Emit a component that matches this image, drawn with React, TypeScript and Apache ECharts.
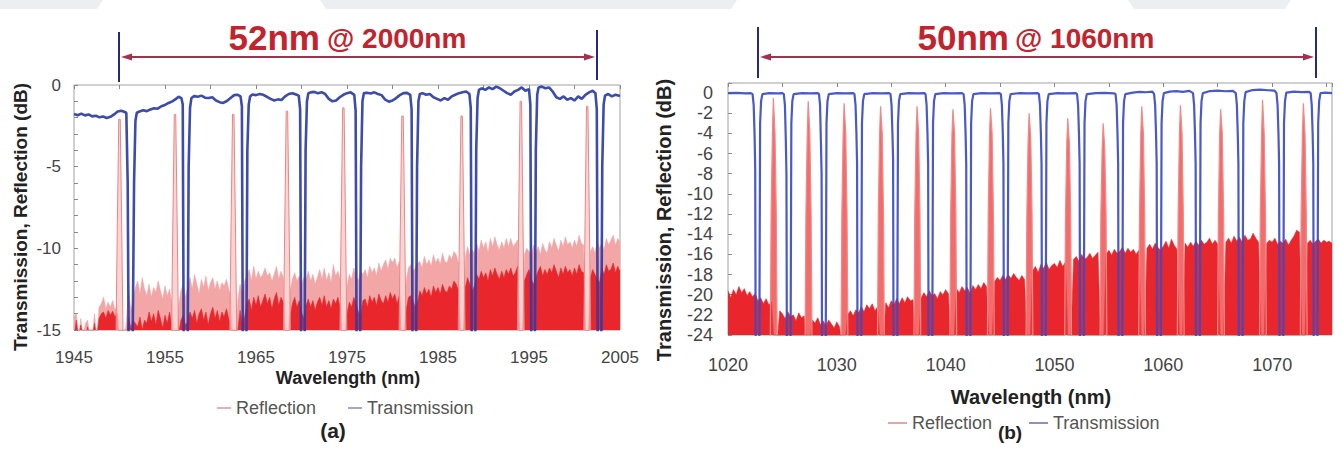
import React, { useEffect, useRef } from "react";
import * as echarts from "echarts";

const FONT = "'Liberation Sans', Arial, Helvetica, sans-serif";

// ================= Chart (a): 52nm @ 2000nm =================
const xMinA = 1945;
const xMaxA = 2005;
const yMinA = -15;
const yMaxA = 0;
const gridStartA = 1945; // wavelength of first sample of the noise arrays
const gridStepA = 0.25;

// upper (pale) envelope of the reflection noise floor, dB
const reflectionEnvelopeA = [
  -14.2, -14.0, -15.5, -14.3, -15.5, -14.6, -14.4, -15.5, -15.5, -14.0, -15.5, -13.6,
  -13.4, -13.0, -13.7, -13.3, -13.6, -13.2, -13.8, -13.5, -16, -16, -16, -14.5,
  -12.6, -13.8, -13.2, -12.4, -12.0, -12.8, -11.8, -12.5, -12.9, -12.2, -13.0, -12.4,
  -12.7, -12.0, -12.6, -13.1, -12.3, -12.9, -12.5, -13.4, -16, -16, -13.5, -12.6,
  -12.2, -13.0, -12.4, -11.8, -12.5, -11.6, -12.2, -12.8, -11.9, -12.4, -11.7, -12.6,
  -12.1, -11.8, -12.5, -12.0, -12.6, -12.1, -12.3, -11.9, -12.5, -13.0, -16, -16,
  -13.2, -12.2, -12.8, -12.0, -11.7, -11.3, -12.0, -11.1, -11.9, -11.4, -11.8, -11.6,
  -11.2, -11.7, -11.5, -12.0, -11.6, -11.1, -11.9, -11.4, -11.8, -16, -16, -12.6,
  -11.9, -11.5, -12.0, -11.7, -12.2, -11.8, -11.9, -11.4, -12.0, -11.6, -12.2, -11.8,
  -11.3, -11.9, -11.2, -12.0, -11.5, -12.1, -11.0, -11.7, -11.4, -11.9, -16, -16,
  -12.3, -11.6, -11.9, -11.2, -11.7, -12.0, -11.4, -11.6, -11.3, -11.8, -11.1, -11.5,
  -11.2, -11.7, -10.9, -11.4, -11.0, -10.7, -11.3, -10.6, -10.9, -10.6, -11.2, -10.8,
  -16, -16, -12.0, -11.2, -11.0, -11.4, -11.2, -10.9, -10.8, -11.2, -10.5, -11.0,
  -10.7, -11.1, -10.4, -10.9, -10.6, -11.0, -10.3, -10.8, -10.9, -10.4, -10.7, -10.2,
  -10.4, -10.9, -16, -16, -10.6, -9.9, -10.4, -10.1, -10.3, -9.7, -10.2, -9.5,
  -10.0, -9.6, -10.3, -9.4, -9.9, -9.3, -9.8, -10.1, -9.6, -10.0, -9.4, -9.9,
  -9.4, -9.9, -9.7, -9.5, -16, -16, -10.4, -10.0, -10.2, -10.5, -9.8, -10.3,
  -9.9, -10.4, -9.7, -10.1, -10.3, -9.6, -10.0, -9.4, -9.8, -10.2, -9.5, -9.9,
  -9.3, -9.8, -9.6, -10.0, -9.5, -9.9, -9.2, -9.7, -9.8, -16, -16, -10.2,
  -9.9, -10.3, -9.6, -10.0, -9.7, -10.1, -9.4, -9.8, -9.5, -9.2, -9.8, -9.4,
  -9.6,
];

// dense (deep red) core of the reflection noise floor, dB
const reflectionCoreA = [
  -15.5, -14.4, -15.5, -14.7, -15.5, -15.5, -14.8, -15.5, -15.5, -14.6, -15.5, -14.3,
  -14.0, -13.9, -14.3, -13.8, -14.1, -13.85, -14.2, -13.95, -16, -16, -16, -15.5,
  -14.2, -14.9, -14.4, -14.6, -14.8, -14.2, -15.0, -14.4, -14.6, -13.9, -14.5, -14.0,
  -14.7, -13.8, -14.3, -14.9, -14.1, -14.6, -13.9, -14.8, -16, -16, -15.2, -14.4,
  -14.1, -14.7, -14.5, -13.9, -14.3, -13.8, -14.6, -14.0, -13.7, -14.4, -13.9, -14.7,
  -14.0, -13.6, -14.3, -13.8, -14.5, -13.9, -14.2, -13.7, -14.3, -14.8, -16, -16,
  -15.0, -13.8, -14.6, -14.2, -13.4, -13.1, -13.8, -13.0, -13.5, -12.9, -13.6, -13.2,
  -12.8, -13.4, -13.0, -13.7, -13.1, -12.7, -13.5, -13.0, -13.3, -16, -16, -14.2,
  -13.4, -13.0, -13.6, -13.2, -13.9, -14.3, -13.5, -13.1, -13.6, -13.2, -13.8, -13.3,
  -13.0, -13.5, -12.9, -13.6, -13.2, -13.7, -13.1, -13.4, -13.0, -13.6, -16, -16,
  -14.0, -13.3, -13.6, -13.0, -13.4, -13.9, -14.1, -13.2, -13.1, -13.6, -12.9, -13.3,
  -13.0, -13.5, -12.8, -13.2, -13.4, -12.9, -13.3, -12.7, -13.1, -12.8, -13.4, -12.9,
  -16, -16, -13.8, -13.0, -12.9, -13.2, -13.6, -13.3, -12.6, -12.9, -12.4, -12.8,
  -12.5, -13.0, -12.3, -12.7, -12.4, -12.8, -12.2, -12.6, -12.7, -12.3, -12.5, -12.0,
  -12.2, -12.6, -16, -16, -12.4, -11.8, -12.2, -12.6, -12.3, -11.6, -11.9, -11.4,
  -11.8, -11.5, -12.0, -11.3, -11.7, -11.2, -11.6, -11.9, -11.4, -11.8, -11.3, -11.6,
  -11.2, -11.7, -11.5, -11.1, -16, -16, -12.0, -11.6, -11.3, -11.9, -12.2, -11.8,
  -11.4, -11.1, -11.7, -11.3, -11.6, -11.2, -11.5, -11.0, -11.4, -11.8, -11.2, -11.6,
  -11.1, -11.5, -11.3, -11.7, -11.2, -11.6, -11.0, -11.4, -11.5, -16, -16, -11.8,
  -11.3, -11.6, -11.9, -12.1, -11.2, -11.6, -11.0, -11.4, -11.3, -10.9, -11.5, -11.1,
  -11.4,
];

// narrow Bragg reflection peaks, [nm, dB]
const reflectionPeaksA: [number, number][] = [
  [1949.6, -16], [1949.75, -9], [1949.92, -2.1], [1950.08, -2.1], [1950.25, -9], [1950.4, -16],
  [1955.7, -16], [1955.85, -9], [1956.02, -1.8], [1956.18, -1.8], [1956.35, -9], [1956.5, -16],
  [1962.1, -16], [1962.25, -9], [1962.42, -1.8], [1962.58, -1.8], [1962.75, -9], [1962.9, -16],
  [1968.0, -16], [1968.15, -9], [1968.32, -1.6], [1968.48, -1.6], [1968.65, -9], [1968.8, -16],
  [1974.2, -16], [1974.35, -9], [1974.52, -1.4], [1974.68, -1.4], [1974.85, -9], [1975.0, -16],
  [1980.7, -16], [1980.85, -9], [1981.02, -1.9], [1981.18, -1.9], [1981.35, -9], [1981.5, -16],
  [1987.2, -16], [1987.35, -9], [1987.52, -1.9], [1987.68, -1.9], [1987.85, -9], [1988.0, -16],
  [1993.7, -16], [1993.85, -9], [1994.02, -1.0], [1994.18, -1.0], [1994.35, -9], [1994.5, -16],
  [2001.0, -16], [2001.15, -9], [2001.32, -1.3], [2001.48, -1.3], [2001.65, -9], [2001.8, -16],
];

// transmission, [nm, dB]
const transmissionA: [number, number][] = [
  [1945, -1.78], [1945.4, -1.85], [1945.8, -1.75], [1946.2, -1.86], [1946.6, -1.8], [1947, -1.92],
  [1947.4, -1.88], [1947.8, -1.98], [1948.2, -1.93], [1948.6, -2.02], [1949, -1.95], [1949.4, -1.8],
  [1949.8, -1.62], [1950.2, -1.58], [1950.5, -1.64],
  [1950.75, -1.7], [1950.9, -6], [1951.0, -15.5], [1951.45, -15.5], [1951.6, -6], [1951.75, -2.2], [1951.9, -1.7],
  [1952.2, -1.62], [1952.6, -1.55], [1953, -1.6], [1953.4, -1.5], [1953.8, -1.42], [1954.2, -1.45],
  [1954.6, -1.3], [1955, -1.22], [1955.4, -1.1], [1955.8, -1.0], [1956.2, -0.85], [1956.5, -0.72], [1956.8, -0.8],
  [1956.95, -1.2], [1957.05, -15.5], [1957.5, -15.5], [1957.6, -5], [1957.75, -1.4], [1957.9, -0.8],
  [1958.2, -0.68], [1958.6, -0.72], [1959, -0.65], [1959.4, -0.78], [1959.8, -0.8], [1960.2, -0.75],
  [1960.6, -0.95], [1961, -1.05], [1961.4, -1.1], [1961.8, -0.98], [1962.2, -0.8], [1962.6, -0.62],
  [1963, -0.6], [1963.3, -0.7],
  [1963.45, -1.3], [1963.55, -15.5], [1963.95, -15.5], [1964.05, -4], [1964.2, -1.2], [1964.35, -0.7],
  [1964.6, -0.58], [1965, -0.62], [1965.4, -0.55], [1965.8, -0.6], [1966.2, -0.72], [1966.6, -0.85],
  [1967, -0.95], [1967.4, -0.88], [1967.8, -0.92], [1968.2, -0.7], [1968.6, -0.55], [1969, -0.5],
  [1969.4, -0.58], [1969.7, -0.65],
  [1969.85, -1.5], [1969.95, -15.5], [1970.35, -15.5], [1970.45, -4], [1970.6, -1], [1970.75, -0.5],
  [1971, -0.45], [1971.4, -0.42], [1971.8, -0.5], [1972.2, -0.44], [1972.6, -0.55], [1973, -0.85],
  [1973.4, -1.0], [1973.8, -0.95], [1974.2, -0.75], [1974.6, -0.6], [1975, -0.5], [1975.4, -0.45], [1975.8, -0.6],
  [1975.95, -1.6], [1976.05, -15.5], [1976.45, -15.5], [1976.55, -5], [1976.7, -1], [1976.85, -0.5],
  [1977.2, -0.48], [1977.6, -0.52], [1978, -0.45], [1978.4, -0.55], [1978.8, -0.62], [1979.2, -0.9],
  [1979.6, -1.02], [1980, -0.95], [1980.4, -0.8], [1980.8, -0.62], [1981.2, -0.5], [1981.6, -0.48], [1981.95, -0.6],
  [1982.1, -1.5], [1982.2, -15.5], [1982.6, -15.5], [1982.7, -5], [1982.85, -1], [1983, -0.55],
  [1983.3, -0.5], [1983.7, -0.6], [1984.1, -0.55], [1984.5, -0.75], [1984.9, -0.85], [1985.3, -0.95],
  [1985.7, -0.8], [1986.1, -0.9], [1986.5, -0.7], [1986.9, -0.6], [1987.3, -0.5], [1987.7, -0.45],
  [1988.1, -0.4], [1988.45, -0.55],
  [1988.6, -1.4], [1988.7, -15.5], [1989.1, -15.5], [1989.2, -4], [1989.35, -0.8], [1989.5, -0.3],
  [1989.8, -0.2], [1990.2, -0.3], [1990.6, -0.15], [1991, -0.25], [1991.4, -0.1], [1991.8, -0.2],
  [1992.2, -0.35], [1992.6, -0.5], [1993, -0.6], [1993.4, -0.4], [1993.8, -0.3], [1994.2, -0.15],
  [1994.6, -0.35], [1995, -0.25],
  [1995.15, -1.2], [1995.25, -15.5], [1995.65, -15.5], [1995.75, -4], [1995.9, -0.6], [1996.05, -0.15],
  [1996.4, -0.1], [1996.8, -0.2], [1997.2, -0.15], [1997.6, -0.4], [1998, -0.75], [1998.4, -0.85],
  [1998.8, -0.7], [1999.2, -0.9], [1999.6, -0.8], [2000, -0.95], [2000.4, -0.7], [2000.8, -0.85],
  [2001.2, -0.6], [2001.6, -0.45], [2002, -0.35], [2002.3, -0.5],
  [2002.45, -1.5], [2002.55, -15.5], [2002.95, -15.5], [2003.05, -5], [2003.2, -1.2], [2003.35, -0.65],
  [2003.7, -0.55], [2004.1, -0.7], [2004.5, -0.6], [2005, -0.68],
];

// ================= Chart (b): 50nm @ 1060nm =================
const xMinB = 1020;
const xMaxB = 1075.5;
const yMinB = -24;
const yMaxB = 1;
const gridStartB = 1020;
const gridStepB = 0.25;

// reflection noise floor, dB
const reflectionNoiseB = [
  -19.6, -20.3, -19.5, -20.0, -19.2, -19.8, -19.4, -20.1, -19.7, -20.2, -19.9, -20.6,
  -20.3, -20.9, -20.4, -21.0, -20.7, -25, -25, -21.6, -21.9, -22.4, -21.7, -22.2,
  -22.0, -22.6, -21.8, -22.3, -22.1, -25, -25, -22.5, -22.8, -22.3, -23.0, -22.6,
  -23.1, -22.5, -22.9, -23.3, -22.7, -23.2, -25, -25, -22.0, -21.6, -22.1, -21.5,
  -21.8, -21.2, -21.7, -21.0, -21.4, -20.9, -21.6, -21.2, -25, -25, -20.8, -21.3,
  -20.6, -21.0, -20.4, -20.9, -20.3, -20.8, -20.2, -20.6, -20.5, -25, -25, -20.3,
  -19.8, -20.2, -19.6, -20.1, -19.9, -20.4, -19.7, -20.0, -19.5, -19.9, -25, -25,
  -19.4, -19.8, -19.2, -19.6, -19.3, -19.9, -19.1, -19.5, -19.0, -19.4, -18.8, -19.2,
  -25, -25, -18.7, -18.3, -18.6, -18.1, -18.5, -18.0, -18.4, -17.9, -18.3, -18.6,
  -18.1, -18.5, -25, -25, -17.6, -17.2, -17.8, -17.0, -17.4, -16.8, -17.5, -17.1,
  -16.9, -17.3, -16.6, -17.2, -16.8, -25, -25, -16.5, -16.2, -16.7, -16.0, -16.5,
  -16.3, -15.9, -16.4, -16.1, -15.8, -25, -25, -16.0, -15.6, -16.1, -15.5, -15.9,
  -15.7, -15.3, -15.9, -15.4, -15.8, -15.5, -16.0, -15.6, -25, -25, -15.4, -15.0,
  -15.5, -14.9, -15.3, -15.6, -15.2, -14.7, -15.4, -14.5, -15.1, -15.5, -25, -25,
  -14.9, -15.3, -14.8, -15.2, -14.7, -15.1, -14.6, -15.0, -14.8, -14.4, -15.0, -14.6,
  -15.0, -25, -25, -14.8, -14.4, -14.9, -14.2, -14.7, -14.3, -14.8, -14.1, -14.6,
  -14.5, -13.9, -14.4, -14.8, -25, -25, -14.9, -14.6, -14.8, -14.4, -15.0, -14.7,
  -14.9, -14.5, -15.1, -14.6, -14.2, -13.6, -13.8, -25, -25, -14.9, -14.6, -15.0,
  -14.7, -14.5, -14.9, -14.6, -14.8, -14.7, -14.9,
];

// Bragg reflection peaks, [nm, dB]
const reflectionPeaksB: [number, number][] = [
  [1023.88, -25], [1023.96, -12], [1024.08, -4], [1024.17, -0.5], [1024.23, -0.5], [1024.32, -4], [1024.44, -12], [1024.52, -25],
  [1027.08, -25], [1027.16, -12], [1027.28, -4], [1027.37, -0.8], [1027.43, -0.8], [1027.52, -4], [1027.64, -12], [1027.72, -25],
  [1030.38, -25], [1030.46, -12], [1030.58, -4], [1030.67, -1], [1030.73, -1], [1030.82, -4], [1030.94, -12], [1031.02, -25],
  [1033.73, -25], [1033.81, -12], [1033.93, -4], [1034.02, -1.3], [1034.08, -1.3], [1034.17, -4], [1034.29, -12], [1034.37, -25],
  [1037.08, -25], [1037.16, -12], [1037.28, -4], [1037.37, -1.3], [1037.43, -1.3], [1037.52, -4], [1037.64, -12], [1037.72, -25],
  [1040.38, -25], [1040.46, -12], [1040.58, -4], [1040.67, -1.6], [1040.73, -1.6], [1040.82, -4], [1040.94, -12], [1041.02, -25],
  [1043.83, -25], [1043.91, -12], [1044.03, -4], [1044.12, -1.5], [1044.18, -1.5], [1044.27, -4], [1044.39, -12], [1044.47, -25],
  [1047.38, -25], [1047.46, -12], [1047.58, -4.5], [1047.67, -2], [1047.73, -2], [1047.82, -4.5], [1047.94, -12], [1048.02, -25],
  [1050.93, -25], [1051.01, -12], [1051.13, -5], [1051.22, -2.5], [1051.28, -2.5], [1051.37, -5], [1051.49, -12], [1051.57, -25],
  [1054.18, -25], [1054.26, -12], [1054.38, -5.5], [1054.47, -3], [1054.53, -3], [1054.62, -5.5], [1054.74, -12], [1054.82, -25],
  [1057.73, -25], [1057.81, -12], [1057.93, -4], [1058.02, -1.3], [1058.08, -1.3], [1058.17, -4], [1058.29, -12], [1058.37, -25],
  [1061.28, -25], [1061.36, -12], [1061.48, -4], [1061.57, -1.2], [1061.63, -1.2], [1061.72, -4], [1061.84, -12], [1061.92, -25],
  [1064.98, -25], [1065.06, -12], [1065.18, -4], [1065.27, -1.6], [1065.33, -1.6], [1065.42, -4], [1065.54, -12], [1065.62, -25],
  [1068.83, -25], [1068.91, -12], [1069.03, -4], [1069.12, -0.7], [1069.18, -0.7], [1069.27, -4], [1069.39, -12], [1069.47, -25],
  [1072.58, -25], [1072.66, -12], [1072.78, -4], [1072.87, -1], [1072.93, -1], [1073.02, -4], [1073.14, -12], [1073.22, -25],
];

// transmission, [nm, dB]
const transmissionB: [number, number][] = [
  [1020, 0.0], [1020.8, 0.02], [1021.6, -0.03], [1022.1, 0.0],
  [1022.26, -0.1], [1022.36, -1.2], [1022.44, -4], [1022.5, -7.5], [1022.54, -25.5], [1022.88, -25.5], [1022.95, -3], [1023.04, -0.8], [1023.16, -0.1],
  [1023.8, 0.0], [1024.6, -0.02], [1025.0, 0.0],
  [1025.13, -0.1], [1025.23, -1.2], [1025.31, -4.5], [1025.37, -8], [1025.41, -25.5], [1025.75, -25.5], [1025.82, -3], [1025.91, -0.8], [1026.03, -0.1],
  [1026.8, 0.0], [1027.6, -0.02], [1028.25, 0.0],
  [1028.36, -0.1], [1028.46, -1.2], [1028.54, -5], [1028.6, -8], [1028.64, -25.5], [1028.98, -25.5], [1029.05, -3], [1029.14, -0.8], [1029.26, -0.1],
  [1030.0, 0.0], [1030.8, -0.02], [1031.5, 0.0],
  [1031.62, -0.1], [1031.72, -1.2], [1031.8, -4], [1031.86, -7], [1031.9, -25.5], [1032.24, -25.5], [1032.31, -3], [1032.4, -0.8], [1032.52, -0.1],
  [1033.3, 0.0], [1034.1, -0.02], [1034.8, 0.0],
  [1034.93, -0.1], [1035.03, -1.2], [1035.11, -4], [1035.17, -6.5], [1035.21, -25.5], [1035.55, -25.5], [1035.62, -3], [1035.71, -0.8], [1035.83, -0.1],
  [1036.6, 0.0], [1037.4, -0.02], [1038.05, 0.0],
  [1038.15, -0.1], [1038.25, -1.2], [1038.33, -4], [1038.39, -7], [1038.43, -25.5], [1038.77, -25.5], [1038.84, -3], [1038.93, -0.8], [1039.05, -0.1],
  [1039.8, 0.0], [1040.6, -0.02], [1041.5, 0.0],
  [1041.65, -0.1], [1041.75, -1.2], [1041.83, -4], [1041.89, -7], [1041.93, -25.5], [1042.27, -25.5], [1042.34, -3], [1042.43, -0.8], [1042.55, -0.1],
  [1043.3, 0.0], [1044.1, -0.02], [1044.95, 0.0],
  [1045.07, -0.1], [1045.17, -1.2], [1045.25, -4], [1045.31, -7], [1045.35, -25.5], [1045.69, -25.5], [1045.76, -3], [1045.85, -0.8], [1045.97, -0.1],
  [1046.8, 0.0], [1047.6, -0.02], [1048.45, 0.0],
  [1048.57, -0.1], [1048.67, -1.2], [1048.75, -4], [1048.81, -7], [1048.85, -25.5], [1049.19, -25.5], [1049.26, -3], [1049.35, -0.8], [1049.47, -0.1],
  [1050.3, 0.0], [1051.1, -0.02], [1051.95, 0.0],
  [1052.07, -0.1], [1052.17, -1.2], [1052.25, -4], [1052.31, -7], [1052.35, -25.5], [1052.69, -25.5], [1052.76, -3], [1052.85, -0.8], [1052.97, -0.1],
  [1053.8, 0.0], [1054.6, 0.03], [1055.45, -0.02],
  [1055.61, -0.1], [1055.71, -1.2], [1055.79, -4], [1055.85, -7], [1055.89, -25.5], [1056.23, -25.5], [1056.3, -3], [1056.39, -0.8], [1056.51, -0.1],
  [1057.2, 0.05], [1057.8, 0.12], [1058.4, 0.08], [1059.0, 0.15],
  [1059.15, -0.1], [1059.25, -1.2], [1059.33, -4], [1059.39, -7], [1059.43, -25.5], [1059.77, -25.5], [1059.84, -3], [1059.93, -0.8], [1060.05, 0.0],
  [1060.6, 0.15], [1061.2, 0.2], [1061.8, 0.12], [1062.4, 0.22],
  [1062.73, 0.0], [1062.83, -1.2], [1062.91, -4], [1062.97, -7], [1063.01, -25.5], [1063.35, -25.5], [1063.42, -3], [1063.51, -0.8], [1063.63, 0.0],
  [1064.3, 0.2], [1065, 0.25], [1065.7, 0.18], [1066.4, 0.22],
  [1066.66, 0.0], [1066.76, -1.2], [1066.84, -4], [1066.9, -7], [1066.94, -25.5], [1067.28, -25.5], [1067.35, -3], [1067.44, -0.8], [1067.56, 0.1],
  [1068.2, 0.3], [1068.9, 0.35], [1069.6, 0.28], [1070.2, 0.25],
  [1070.4, 0.0], [1070.5, -1.2], [1070.58, -4], [1070.64, -7], [1070.68, -25.5], [1071.02, -25.5], [1071.09, -3], [1071.18, -0.8], [1071.3, 0.05],
  [1072, 0.15], [1072.7, 0.1], [1073.4, 0.12],
  [1073.54, 0.0], [1073.64, -1.2], [1073.72, -4], [1073.78, -7], [1073.82, -25.5], [1074.16, -25.5], [1074.23, -3], [1074.32, -0.8], [1074.44, 0.0],
  [1074.9, 0.05], [1075.5, 0.0],
];

const onGrid = (start: number, step: number, values: number[]) =>
  values.map((v, i) => [start + i * step, v]);

const C = {
  blueA: "#2c3ca6",
  blueB: "#3a4bc4",
  red: "#e8262c",
  pink: "#f3a6a6",
  peakLine: "#ea8585",
  peakFill: "#f6c2c2",
  border: "#a2a2a2",
  tick: "#444",
  title: "#c3232c",
  arrow: "#a3304f",
  bracket: "#27297c",
  band: "#eceef1",
};

function buildOption() {
  const axisLabelBase = { color: C.tick, fontFamily: FONT };
  const noLine = { show: false };
  const plain = (v: number) => String(v);
  return {
    animation: false,
    backgroundColor: "#ffffff",
    textStyle: { fontFamily: FONT },
    grid: [
      { left: 74, top: 85, width: 546, height: 245, show: true, borderColor: C.border, borderWidth: 1, backgroundColor: "#fff" },
      { left: 728, top: 83, width: 604, height: 252, show: true, borderColor: C.border, borderWidth: 1, backgroundColor: "#fff" },
    ],
    xAxis: [
      {
        gridIndex: 0, type: "value", min: xMinA, max: xMaxA, interval: 10,
        axisLine: noLine, axisTick: { show: false }, splitLine: { show: false },
        axisLabel: { ...axisLabelBase, fontSize: 17, margin: 19, formatter: plain },
      },
      {
        gridIndex: 0, type: "value", position: "top", min: xMinA, max: xMaxA, interval: 5,
        axisLine: noLine, splitLine: { show: false }, axisLabel: { show: false },
        axisTick: { show: true, inside: true, length: 4, lineStyle: { color: "#8a8a8a" } },
      },
      {
        gridIndex: 1, type: "value", min: xMinB, max: xMaxB, interval: 10,
        axisLine: noLine, axisTick: { show: false }, splitLine: { show: false },
        axisLabel: {
          ...axisLabelBase, fontSize: 18, margin: 21,
          formatter: (v: number) => (v % 10 === 0 ? String(v) : ""),
        },
      },
      {
        gridIndex: 1, type: "value", position: "top", min: xMinB, max: xMaxB, interval: 5,
        axisLine: noLine, splitLine: { show: false }, axisLabel: { show: false },
        axisTick: { show: true, inside: true, length: 4, lineStyle: { color: "#8a8a8a" } },
      },
    ],
    yAxis: [
      {
        gridIndex: 0, type: "value", min: yMinA, max: yMaxA, interval: 1,
        axisLine: noLine, splitLine: { show: false },
        axisTick: { show: true, inside: true, length: 4, lineStyle: { color: "#8a8a8a" } },
        axisLabel: {
          ...axisLabelBase, fontSize: 17, margin: 13,
          formatter: (v: number) => (v % 5 === 0 ? String(v) : ""),
        },
      },
      {
        gridIndex: 1, type: "value", min: yMinB, max: yMaxB, interval: 2,
        axisLine: noLine, splitLine: { show: false },
        axisTick: { show: true, inside: true, length: 4, lineStyle: { color: "#8a8a8a" } },
        axisLabel: {
          ...axisLabelBase, fontSize: 18, margin: 15,
          formatter: (v: number) => (v > 0 ? "" : String(v)),
        },
      },
    ],
    legend: [
      {
        left: 212, top: 394, icon: "rect", itemWidth: 14, itemHeight: 2, itemGap: 32,
        selectedMode: false,
        textStyle: { fontSize: 18, color: "#555", fontFamily: FONT },
        data: [
          { name: "Reflection", itemStyle: { color: "#e7b1b1" } },
          { name: "Transmission", itemStyle: { color: "#a4a4cf" } },
        ],
      },
      {
        left: 883, top: 409, icon: "rect", itemWidth: 19, itemHeight: 2, itemGap: 37,
        selectedMode: false,
        textStyle: { fontSize: 18, color: "#555", fontFamily: FONT },
        data: [
          { name: "Reflection", itemStyle: { color: "#e7a4a4" } },
          { name: "Transmission", itemStyle: { color: "#8e8ecb" } },
        ],
      },
    ],
    series: [
      // ---- (a)
      {
        name: "Reflection", type: "line", xAxisIndex: 0, yAxisIndex: 0, z: 2, silent: true,
        symbol: "none", data: onGrid(gridStartA, gridStepA, reflectionEnvelopeA),
        lineStyle: { width: 0.6, color: C.pink }, itemStyle: { color: C.pink },
        areaStyle: { origin: "start", color: C.pink, opacity: 1 },
      },
      {
        name: "Reflection", type: "line", xAxisIndex: 0, yAxisIndex: 0, z: 3, silent: true,
        symbol: "none", data: onGrid(gridStartA, gridStepA, reflectionCoreA),
        lineStyle: { width: 0.6, color: C.red }, itemStyle: { color: C.red },
        areaStyle: { origin: "start", color: C.red, opacity: 1 },
      },
      {
        name: "Reflection", type: "line", xAxisIndex: 0, yAxisIndex: 0, z: 4, silent: true,
        symbol: "none", data: reflectionPeaksA,
        lineStyle: { width: 1, color: C.peakLine }, itemStyle: { color: C.peakLine },
        areaStyle: { origin: "start", color: C.peakFill, opacity: 0.7 },
      },
      {
        name: "Transmission", type: "line", xAxisIndex: 0, yAxisIndex: 0, z: 5, silent: true,
        symbol: "none", data: transmissionA,
        lineStyle: { width: 2.6, color: C.blueA, opacity: 0.92 }, itemStyle: { color: C.blueA },
      },
      // ---- (b)
      {
        name: "Reflection", type: "line", xAxisIndex: 2, yAxisIndex: 1, z: 2, silent: true,
        symbol: "none", data: onGrid(gridStartB, gridStepB, reflectionNoiseB),
        lineStyle: { width: 0.6, color: C.red }, itemStyle: { color: C.red },
        areaStyle: { origin: "start", color: C.red, opacity: 1 },
      },
      {
        name: "Reflection", type: "line", xAxisIndex: 2, yAxisIndex: 1, z: 3, silent: true,
        symbol: "none", data: reflectionPeaksB,
        lineStyle: { width: 1.2, color: "#f08a8a" }, itemStyle: { color: "#f08a8a" },
        areaStyle: { origin: "start", color: "#ee3b3b", opacity: 0.75 },
      },
      {
        name: "Transmission", type: "line", xAxisIndex: 2, yAxisIndex: 1, z: 5, silent: true,
        symbol: "none", data: transmissionB,
        lineStyle: { width: 2.2, color: C.blueB, opacity: 0.92 }, itemStyle: { color: C.blueB },
      },
    ],
    graphic: [
      // faint top band with white tabs
      { type: "rect", shape: { x: 0, y: 0, width: 1342, height: 9 }, style: { fill: C.band }, silent: true },
      { type: "polygon", shape: { points: [[103, 0], [320, 0], [326, 9], [97, 9]] }, style: { fill: "#ffffff" }, silent: true },
      { type: "polygon", shape: { points: [[737, 0], [1128, 0], [1134, 9], [731, 9]] }, style: { fill: "#ffffff" }, silent: true },
      { type: "polygon", shape: { points: [[1291, 0], [1342, 0], [1342, 9], [1285, 9]] }, style: { fill: "#ffffff" }, silent: true },
      // ---- (a) annotations
      { type: "line", shape: { x1: 119, y1: 32, x2: 119, y2: 82 }, style: { stroke: C.bracket, lineWidth: 2 } },
      { type: "line", shape: { x1: 597, y1: 30, x2: 597, y2: 80 }, style: { stroke: C.bracket, lineWidth: 2 } },
      { type: "line", shape: { x1: 124, y1: 57, x2: 592, y2: 57 }, style: { stroke: C.arrow, lineWidth: 2 } },
      { type: "polygon", shape: { points: [[121, 57], [132, 53.5], [132, 60.5]] }, style: { fill: C.arrow } },
      { type: "polygon", shape: { points: [[595, 57], [584, 53.5], [584, 60.5]] }, style: { fill: C.arrow } },
      {
        type: "text", x: 320, y: 37,
        style: { text: "52nm", fontSize: 35, fontWeight: "bold", fontFamily: FONT, fill: C.title, align: "right", verticalAlign: "middle" },
      },
      {
        type: "text", x: 327, y: 38,
        style: { text: "@ 2000nm", fontSize: 28, fontWeight: "bold", fontFamily: FONT, fill: C.title, align: "left", verticalAlign: "middle" },
      },
      {
        type: "text", x: 20, y: 217, rotation: Math.PI / 2,
        style: { text: "Transmission, Reflection (dB)", fontSize: 19, fontWeight: "bold", fontFamily: FONT, fill: "#222", align: "center", verticalAlign: "middle" },
      },
      {
        type: "text", x: 348, y: 378,
        style: { text: "Wavelength (nm)", fontSize: 18, fontWeight: "bold", fontFamily: FONT, fill: "#222", align: "center", verticalAlign: "middle" },
      },
      {
        type: "text", x: 333, y: 430,
        style: { text: "(a)", fontSize: 21, fontWeight: "bold", fontFamily: FONT, fill: "#222", align: "center", verticalAlign: "middle" },
      },
      // ---- (b) annotations
      { type: "line", shape: { x1: 758, y1: 27, x2: 758, y2: 78 }, style: { stroke: C.bracket, lineWidth: 2 } },
      { type: "line", shape: { x1: 1316, y1: 27, x2: 1316, y2: 78 }, style: { stroke: C.bracket, lineWidth: 2 } },
      { type: "line", shape: { x1: 763, y1: 57, x2: 1311, y2: 57 }, style: { stroke: C.arrow, lineWidth: 2 } },
      { type: "polygon", shape: { points: [[760, 57], [771, 53.5], [771, 60.5]] }, style: { fill: C.arrow } },
      { type: "polygon", shape: { points: [[1314, 57], [1303, 53.5], [1303, 60.5]] }, style: { fill: C.arrow } },
      {
        type: "text", x: 1009, y: 37,
        style: { text: "50nm", fontSize: 35, fontWeight: "bold", fontFamily: FONT, fill: C.title, align: "right", verticalAlign: "middle" },
      },
      {
        type: "text", x: 1015, y: 38,
        style: { text: "@ 1060nm", fontSize: 28, fontWeight: "bold", fontFamily: FONT, fill: C.title, align: "left", verticalAlign: "middle" },
      },
      {
        type: "text", x: 664, y: 220, rotation: Math.PI / 2,
        style: { text: "Transmission, Reflection (dB)", fontSize: 20, fontWeight: "bold", fontFamily: FONT, fill: "#222", align: "center", verticalAlign: "middle" },
      },
      {
        type: "text", x: 1031, y: 397,
        style: { text: "Wavelength (nm)", fontSize: 20, fontWeight: "bold", fontFamily: FONT, fill: "#222", align: "center", verticalAlign: "middle" },
      },
      {
        type: "text", x: 1010, y: 432,
        style: { text: "(b)", fontSize: 19, fontWeight: "bold", fontFamily: FONT, fill: "#222", align: "center", verticalAlign: "middle" },
      },
    ],
  };
}

export default function App() {
  const ref = useRef<HTMLDivElement | null>(null);
  useEffect(() => {
    if (!ref.current) return;
    const chart = echarts.init(ref.current, undefined, { renderer: "svg" });
    chart.setOption(buildOption() as any);
    return () => chart.dispose();
  }, []);
  return (
    <div
      ref={ref}
      style={{ position: "fixed", left: 0, top: 0, width: 1342, height: 450, background: "#fff" }}
    />
  );
}
